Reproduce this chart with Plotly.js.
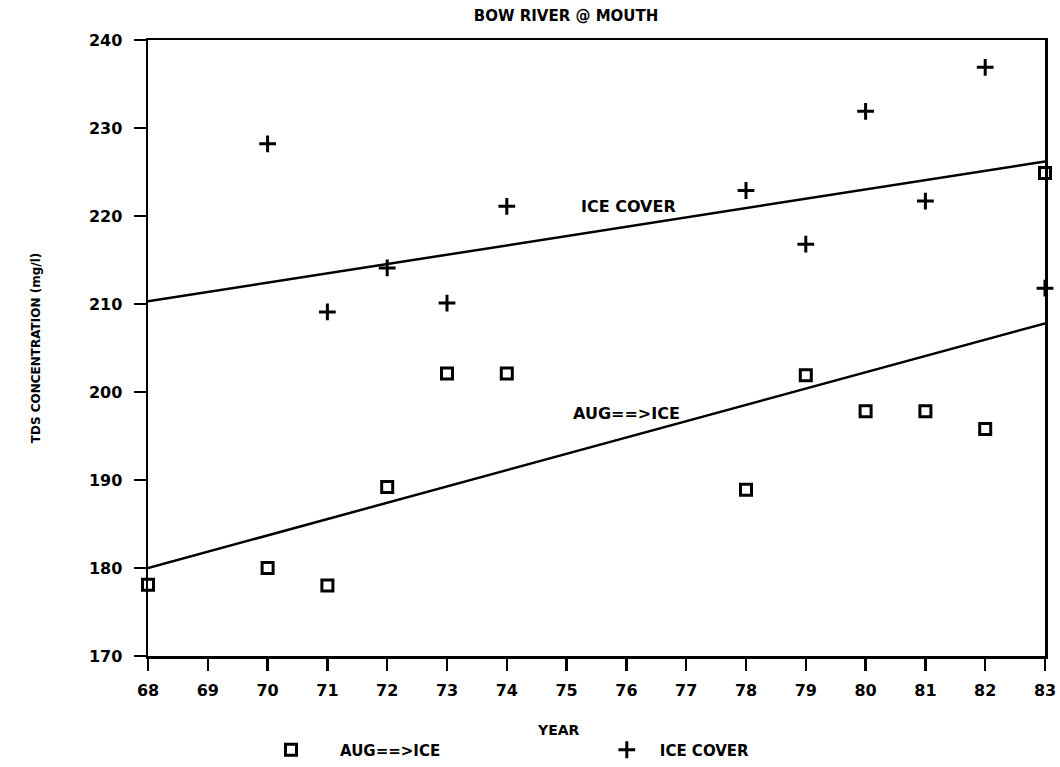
<!DOCTYPE html>
<html>
<head>
<meta charset="utf-8">
<script src="https://cdn.plot.ly/plotly-3.0.1.min.js"></script>
<style>html,body{margin:0;padding:0;background:#fff;}#chart{width:1060px;height:767px;}</style>
</head>
<body>
<div id="chart"></div>
<script>
// Data
const augYears = [68, 70, 71, 72, 73, 74, 78, 79, 80, 81, 82, 83];
const augTDS   = [178.1, 180.0, 178.0, 189.2, 202.1, 202.1, 188.9, 201.9, 197.8, 197.8, 195.8, 224.9];
const iceYears = [70, 71, 72, 73, 74, 78, 79, 80, 81, 82, 83];
const iceTDS   = [228.2, 209.1, 214.1, 210.1, 221.1, 222.9, 216.8, 231.9, 221.7, 236.9, 211.8];
const trendYears = [68, 83];
const iceTrend = [210.3, 226.2];
const augTrend = [180.0, 207.8];
const xTicks = [68, 69, 70, 71, 72, 73, 74, 75, 76, 77, 78, 79, 80, 81, 82, 83];
const yTicks = [170, 180, 190, 200, 210, 220, 230, 240];
const seriesNames = ["AUG==>ICE", "ICE COVER"];

const FONT = "DejaVu Sans, Liberation Sans, sans-serif";
const bold = (size) => ({family: FONT, size: size, color: "#000", weight: "bold"});

const traces = [
  {x: trendYears, y: iceTrend, mode: "lines", line: {color: "#000", width: 2.5}, showlegend: false, hoverinfo: "skip"},
  {x: trendYears, y: augTrend, mode: "lines", line: {color: "#000", width: 2.5}, showlegend: false, hoverinfo: "skip"},
  {x: augYears, y: augTDS, mode: "markers", name: seriesNames[0], cliponaxis: false, legend: "legend",
   marker: {symbol: "square-open", size: 11, color: "#000", line: {color: "#000", width: 3}}},
  {x: iceYears, y: iceTDS, mode: "markers", name: seriesNames[1], cliponaxis: false, legend: "legend2",
   marker: {symbol: "cross-thin-open", size: 12, color: "#000", line: {color: "#000", width: 3}}}
];

const legendBase = {
  orientation: "h", xanchor: "left", y: -0.1526, yanchor: "middle",
  font: bold(15), bgcolor: "rgba(0,0,0,0)", borderwidth: 0,
  itemclick: false, itemdoubleclick: false
};

const layout = {
  width: 1060, height: 767,
  margin: {l: 148, r: 15, t: 40, b: 111, autoexpand: false},
  paper_bgcolor: "#fff", plot_bgcolor: "#fff",
  showlegend: true,
  title: {text: "BOW RIVER @ MOUTH", font: bold(15), xref: "container", yref: "container",
          x: 0.534, y: 0.980, xanchor: "center", yanchor: "middle"},
  xaxis: {
    range: [68, 83], tickvals: xTicks, ticktext: xTicks.map(String),
    showgrid: false, zeroline: false, automargin: false,
    showline: true, linecolor: "#000", linewidth: 2.5, mirror: true,
    ticks: "outside", ticklen: 12, tickwidth: 2.5, tickcolor: "#000",
    tickfont: bold(16), ticklabelstandoff: 6
  },
  yaxis: {
    range: [170, 240], tickvals: yTicks,
    showgrid: false, zeroline: false, automargin: false,
    showline: true, linecolor: "#000", linewidth: 2.5, mirror: true,
    ticks: "outside", ticklen: 12, tickwidth: 2.5, tickcolor: "#000",
    tickfont: bold(16), ticklabelstandoff: 8,
    title: {text: "TDS CONCENTRATION (mg/l)", font: bold(12), standoff: 46}
  },
  legend: Object.assign({}, legendBase, {x: 0.1048, itemwidth: 88}),
  legend2: Object.assign({}, legendBase, {x: 0.497, itemwidth: 56}),
  annotations: [
    {x: 76.04, y: 221.1, xref: "x", yref: "y", text: "ICE COVER", showarrow: false, font: bold(16)},
    {x: 76.0, y: 197.6, xref: "x", yref: "y", text: "AUG==>ICE", showarrow: false, font: bold(16)},
    {x: (558 - 148) / (1060 - 148 - 15), y: (656 - 730) / (656 - 40), xref: "paper", yref: "paper",
     text: "YEAR", showarrow: false, font: bold(14), xanchor: "center", yanchor: "middle"}
  ]
};

Plotly.newPlot("chart", traces, layout, {displayModeBar: false, staticPlot: true});
</script>
</body>
</html>
